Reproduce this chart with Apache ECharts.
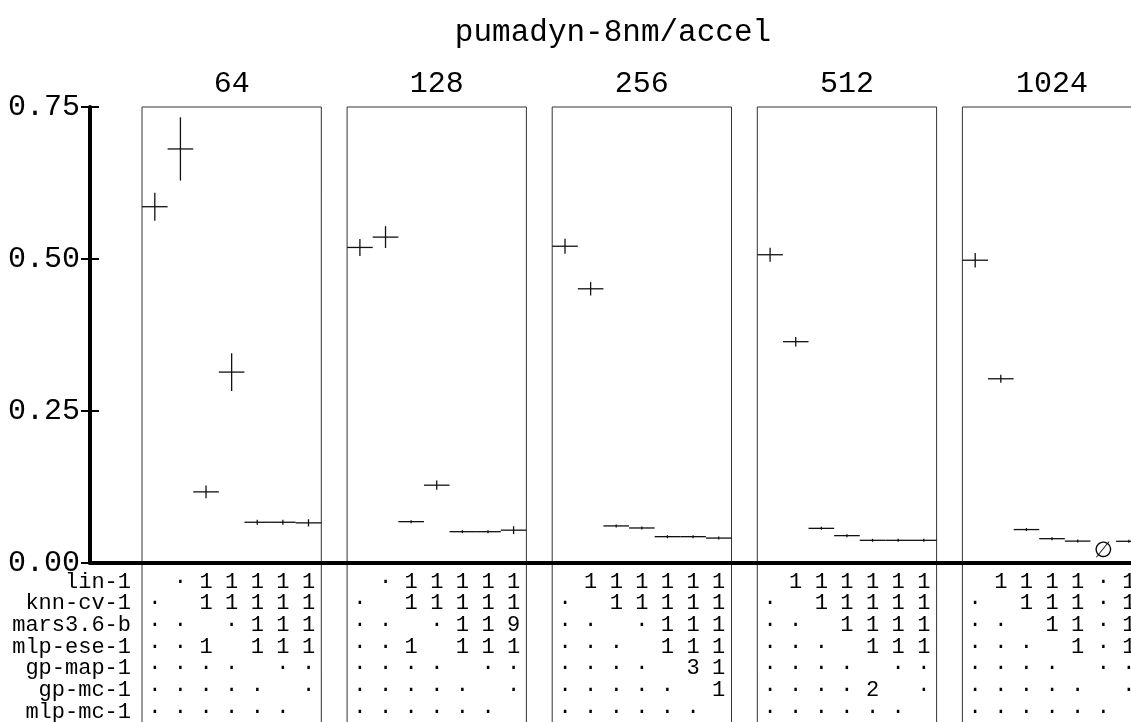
<!DOCTYPE html>
<html>
<head>
<meta charset="utf-8">
<title>pumadyn-8nm/accel</title>
<script src="https://cdn.jsdelivr.net/npm/echarts@6/dist/echarts.min.js"></script>
<style>
  html, body { margin: 0; padding: 0; background: #fff; }
  #chart { width: 1131px; height: 722px; }
</style>
</head>
<body>
<div id="chart"></div>
<script>
// Methods compared in every panel (also the rows/columns of the significance tables)
const methods = ['lin-1', 'knn-cv-1', 'mars3.6-b', 'mlp-ese-1', 'gp-map-1', 'gp-mc-1', 'mlp-mc-1'];
// Training-set sizes, one panel each
const trainSizes = ['64', '128', '256', '512', '1024'];
// Y axis tick values
const yTicks = [0, 0.25, 0.5, 0.75];

// Estimated expected loss (mean) and standard error per method; null = no result
const mean64   = [0.586, 0.681, 0.117, 0.314, 0.067, 0.067, 0.066];
const err64    = [0.023, 0.052, 0.0105, 0.031, 0.004, 0.004, 0.006];
const mean128  = [0.519, 0.536, 0.068, 0.128, 0.0515, 0.0515, 0.054];
const err128   = [0.014, 0.018, 0.001, 0.0077, 0.001, 0.001, 0.0065];
const mean256  = [0.521, 0.451, 0.061, 0.0576, 0.0433, 0.0433, 0.041];
const err256   = [0.0125, 0.011, 0.001, 0.001, 0.001, 0.001, 0.001];
const mean512  = [0.507, 0.364, 0.057, 0.045, 0.0373, 0.0373, 0.0373];
const err512   = [0.0115, 0.0078, 0.001, 0.001, 0.0005, 0.0005, 0.0005];
const mean1024 = [0.498, 0.303, 0.055, 0.040, 0.036, null, 0.0357];
const err1024  = [0.012, 0.0065, 0.001, 0.001, 0.0005, null, 0.0005];

// Pairwise comparison tables: '-' diagonal, '.' not significant, digit = significance level
const table64   = ['-.11111', '.-11111', '..-.111', '..1-111', '....-..', '.....-.', '......-'];
const table128  = ['-.11111', '.-11111', '..-.119', '..1-111', '....-..', '.....-.', '......-'];
const table256  = ['-111111', '.-11111', '..-.111', '...-111', '....-31', '.....-1', '......-'];
const table512  = ['-111111', '.-11111', '..-1111', '...-111', '....-..', '....2-.', '......-'];
const table1024 = ['-1111.1', '.-111.1', '..-11.1', '...-1.1', '....-..', '.....-.', '......-'];

const panelMeans  = [mean64, mean128, mean256, mean512, mean1024];
const panelErrs   = [err64, err128, err256, err512, err1024];
const panelTables = [table64, table128, table256, table512, table1024];

// ---- layout ----
const FONT = '"Liberation Mono", "DejaVu Sans Mono", monospace';
const axisLeft = 90;
const plotTop = 107;
const plotHeight = 456;            // 0 .. 0.75
const panelLeft0 = 142;
const panelStep = 205.1;
const panelWidth = 179.3;
const panelHeight = 617;           // frame runs past the bottom edge
const tableTop = 571;
const tableHeight = 151.5;

const yMin = Math.min(...yTicks);
const yMax = Math.max(...yTicks);
const yInterval = yTicks[1] - yTicks[0];
// panel frames are taller than the value area; extend their scale downward to keep the same units
const panelMin = yMax - panelHeight * (yMax - yMin) / plotHeight;

const grid = [];
const xAxis = [];
const yAxis = [];
const series = [];

// Shared value axis and zero line
grid.push({ left: axisLeft, right: 0, top: plotTop, height: plotHeight, outerBoundsMode: 'none' });
xAxis.push({
  gridIndex: 0, type: 'value', min: 0, max: 1, position: 'bottom', z: 10,
  axisLine: { show: true, onZero: false, lineStyle: { color: '#000', width: 4 } },
  axisTick: { show: false }, axisLabel: { show: false }, splitLine: { show: false }
});
yAxis.push({
  gridIndex: 0, type: 'value', min: yMin, max: yMax, interval: yInterval, position: 'left', z: 10,
  axisLine: { show: true, lineStyle: { color: '#000', width: 4 } },
  axisTick: { show: true, inside: false, length: 9, lineStyle: { color: '#000', width: 2 } },
  axisLabel: {
    show: true, margin: 10, color: '#000', fontFamily: FONT, fontSize: 30,
    formatter: v => v.toFixed(2)
  },
  splitLine: { show: false }
});
yAxis.push({
  gridIndex: 0, type: 'value', min: yMin, max: yMax, interval: yInterval, position: 'left', z: 10,
  axisLine: { show: false },
  axisTick: { show: true, inside: true, length: 9, lineStyle: { color: '#000', width: 2 } },
  axisLabel: { show: false }, splitLine: { show: false }
});

// Panels with error crosses
trainSizes.forEach((size, k) => {
  const gi = grid.length;
  const left = panelLeft0 + k * panelStep;
  grid.push({
    left: left, width: panelWidth, top: plotTop, height: panelHeight, outerBoundsMode: 'none',
    show: true, borderColor: '#333', borderWidth: 1, backgroundColor: 'transparent'
  });
  xAxis.push({
    gridIndex: gi, type: 'category', data: methods, position: 'top', boundaryGap: true,
    axisLine: { show: false }, axisTick: { show: false }, axisLabel: { show: false },
    name: size, nameLocation: 'middle', nameGap: 8,
    nameTextStyle: { color: '#000', fontFamily: FONT, fontSize: 30 }
  });
  const yi = yAxis.length;
  yAxis.push({ gridIndex: gi, type: 'value', min: panelMin, max: yMax, show: false });

  const means = panelMeans[k];
  const errs = panelErrs[k];
  series.push({
    type: 'custom', xAxisIndex: gi, yAxisIndex: yi,
    data: methods.map((m, i) => [i, means[i] == null ? 0 : means[i]]),
    renderItem: (params, api) => {
      const i = params.dataIndex;
      const bw = api.size([1, 0])[0];
      if (means[i] == null) {
        const p = api.coord([i, 0]);
        return {
          type: 'text', x: p[0], y: p[1] - 12,
          style: { text: '\u2205', fill: '#000', fontFamily: '"DejaVu Sans", sans-serif', fontSize: 22, align: 'center', verticalAlign: 'middle' }
        };
      }
      const m = means[i], e = errs[i];
      const c = api.coord([i, m]);
      const lo = api.coord([i, m - e]);
      const hi = api.coord([i, m + e]);
      const st = { stroke: '#111', lineWidth: 1.3 };
      return {
        type: 'group',
        children: [
          { type: 'line', shape: { x1: c[0] - bw / 2, y1: c[1], x2: c[0] + bw / 2, y2: c[1] }, style: st },
          { type: 'line', shape: { x1: c[0], y1: Math.max(lo[1], c[1] + 1.5), x2: c[0], y2: Math.min(hi[1], c[1] - 1.5) }, style: st }
        ]
      };
    }
  });
});

// Significance tables beneath each panel
trainSizes.forEach((size, k) => {
  const gi = grid.length;
  const left = panelLeft0 + k * panelStep;
  grid.push({ left: left, width: panelWidth, top: tableTop, height: tableHeight, outerBoundsMode: 'none' });
  xAxis.push({
    gridIndex: gi, type: 'category', data: methods, boundaryGap: true, show: false
  });
  const yi = yAxis.length;
  yAxis.push({
    gridIndex: gi, type: 'category', data: methods, inverse: true, boundaryGap: true,
    axisLine: { show: false }, axisTick: { show: false }, splitLine: { show: false },
    axisLabel: { show: k === 0, interval: 0, margin: 11, color: '#000', fontFamily: FONT, fontSize: 22 }
  });
  const cells = [];
  panelTables[k].forEach((row, r) => {
    row.split('').forEach((ch, c) => {
      if (ch === '-') return;
      cells.push({ c: c, r: r, t: ch === '.' ? '\u00b7' : ch });
    });
  });
  series.push({
    type: 'custom', xAxisIndex: gi, yAxisIndex: yi,
    data: cells.map(d => [d.c, d.r]),
    renderItem: (params, api) => {
      const p = api.coord([api.value(0), api.value(1)]);
      return {
        type: 'text', x: p[0], y: p[1],
        style: { text: cells[params.dataIndex].t, fill: '#000', fontFamily: FONT, fontSize: 22, align: 'center', verticalAlign: 'middle' }
      };
    }
  });
});

const chart = echarts.init(document.getElementById('chart'), null, { renderer: 'canvas' });
chart.setOption({
  animation: false,
  backgroundColor: '#fff',
  title: {
    text: 'pumadyn-8nm/accel', left: 613, top: 17, textAlign: 'center', padding: 0,
    textStyle: { color: '#000', fontFamily: FONT, fontSize: 31, fontWeight: 'normal' }
  },
  grid: grid,
  xAxis: xAxis,
  yAxis: yAxis,
  series: series
});
</script>
</body>
</html>
